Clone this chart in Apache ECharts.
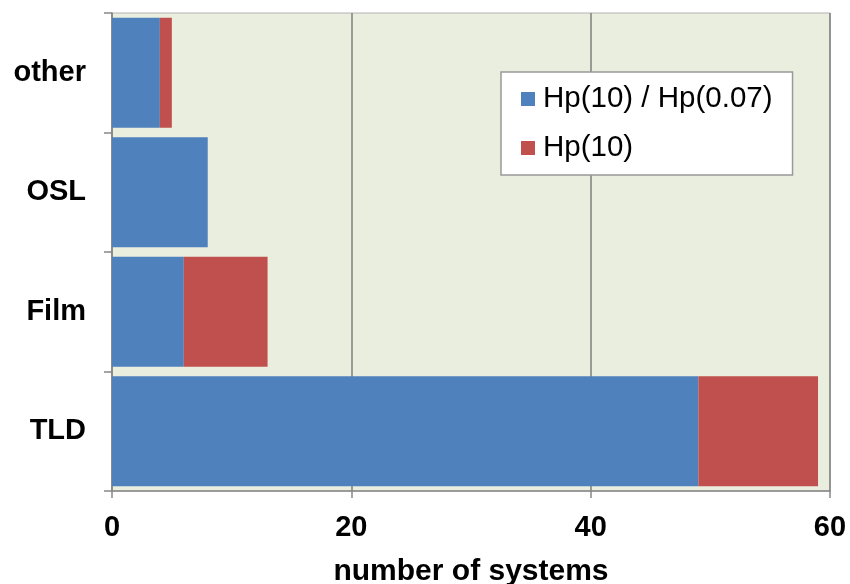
<!DOCTYPE html>
<html><head><meta charset="utf-8">
<script src="https://cdn.jsdelivr.net/npm/echarts@6/dist/echarts.min.js"></script>
<style>html,body{margin:0;padding:0;background:#fff}#c{width:850px;height:584px}</style>
</head><body><div id="c"></div>
<script>
const categories = ['TLD', 'Film', 'OSL', 'other'];
const hpBoth = [49, 6, 8, 4];
const hp10 = [10, 7, 0, 1];
const seriesNames = ['Hp(10) / Hp(0.07)', 'Hp(10)'];
const xTicks = [0, 20, 40, 60];

const chart = echarts.init(document.getElementById('c'));
const font = 'Liberation Sans, Arial, sans-serif';
chart.setOption({
  animation: false,
  grid: {left: 112, right: 20, top: 13, bottom: 93, outerBoundsMode: 'none', containLabel: false,
    show: true, backgroundColor: '#EAEEDF', borderColor: '#B3B3B3', borderWidth: 1},
  legend: {
    orient: 'vertical', left: 501, top: 72,
    backgroundColor: '#fff', borderColor: '#999', borderWidth: 1.5,
    padding: [12, 20, 12, 20], itemGap: 19, itemWidth: 14, itemHeight: 14,
    icon: 'rect',
    textStyle: {fontFamily: font, fontSize: 29.5, color: '#000', lineHeight: 30, padding: [0, 0, 0, 3]},
    data: seriesNames
  },
  xAxis: {
    type: 'value', min: 0, max: 60, interval: 20,
    name: 'number of systems', nameLocation: 'middle', nameGap: 66,
    nameTextStyle: {fontFamily: font, fontSize: 30, fontWeight: 'bold', color: '#000'},
    axisLine: {show: true, lineStyle: {color: '#888', width: 1.5}},
    axisTick: {show: true, length: 7, lineStyle: {color: '#888', width: 1.5}},
    axisLabel: {fontFamily: font, fontSize: 29, fontWeight: 'bold', color: '#000', margin: 22,
      formatter: v => xTicks.includes(v) ? String(v) : ''},
    splitLine: {show: true, lineStyle: {color: '#7F7F7F', width: 1.5}}
  },
  yAxis: {
    type: 'category', data: categories,
    axisLine: {show: true, lineStyle: {color: '#888', width: 1.5}},
    axisTick: {show: true, length: 8, lineStyle: {color: '#888', width: 1.5}},
    axisLabel: {fontFamily: font, fontSize: 29, fontWeight: 'bold', color: '#000', margin: 26},
    splitLine: {show: false}
  },
  series: [
    {name: seriesNames[0], type: 'bar', stack: 's', data: hpBoth, barCategoryGap: '8%', itemStyle: {color: '#4F81BD'}},
    {name: seriesNames[1], type: 'bar', stack: 's', data: hp10, barCategoryGap: '8%', itemStyle: {color: '#C0504D'}}
  ]
});
</script></body></html>
